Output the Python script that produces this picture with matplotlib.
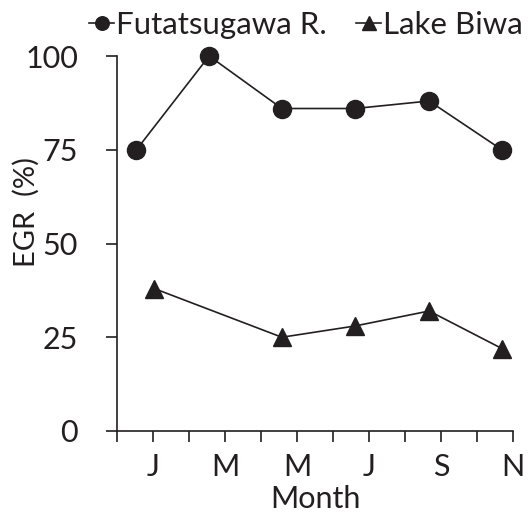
import matplotlib
matplotlib.use("Agg")
import matplotlib.pyplot as plt
from matplotlib.ticker import FixedLocator, FixedFormatter

plt.rcParams['font.family'] = ['Lato', 'DejaVu Sans']

# Sampling positions expressed in months (0 = start of December)
futatsugawa_x = [0.54, 2.56, 4.58, 6.61, 8.67, 10.69]
futatsugawa_egr = [75, 100, 86, 86, 88, 75]
biwa_x = [1.03, 4.58, 6.61, 8.67, 10.69]
biwa_egr = [38, 25, 28, 32, 22]

month_ticks = list(range(0, 12))
month_labels = ["", "J", "", "M", "", "M", "", "J", "", "S", "", "N"]
y_ticks = [0, 25, 50, 75, 100]

ink = "#231f20"

fig = plt.figure(figsize=(5.30, 5.12), dpi=100)
ax = fig.add_axes([117 / 530, 1 - 431 / 512, 396 / 530, 375 / 512])

ax.plot(futatsugawa_x, futatsugawa_egr, color=ink, lw=1.2, marker="o",
        ms=13, mfc=ink, mec=ink, label="Futatsugawa R.", clip_on=False)
ax.plot(biwa_x, biwa_egr, color=ink, lw=1.2, marker="^",
        ms=13, mfc=ink, mec=ink, label="Lake Biwa", clip_on=False)

ax.set_xlim(0, 11)
ax.set_ylim(0, 100)

for side in ("top", "right"):
    ax.spines[side].set_visible(False)
for side in ("left", "bottom"):
    ax.spines[side].set_color(ink)
    ax.spines[side].set_linewidth(1.2)

ax.xaxis.set_major_locator(FixedLocator(month_ticks))
ax.xaxis.set_major_formatter(FixedFormatter(month_labels))
ax.set_yticks(y_ticks)

ax.tick_params(axis="both", direction="out", length=8, width=1.2,
               color=ink, labelcolor=ink, labelsize=22)
ax.tick_params(axis="y", pad=20)
ax.tick_params(axis="x", pad=8)

ax.set_xlabel("Month", fontsize=22, color=ink, labelpad=3)
ax.set_ylabel("EGR  (%)", fontsize=21, color=ink)
ax.yaxis.set_label_coords(-0.195, 0.585)

leg = ax.legend(loc="lower left", bbox_to_anchor=(-0.07, 1.045), ncol=2,
                frameon=False, fontsize=22.5, handlelength=0.8,
                handletextpad=0.05, columnspacing=0.95, borderaxespad=0,
                borderpad=0, labelcolor=ink, markerscale=0.75)

fig.savefig("out.png", dpi=100, facecolor="white")
